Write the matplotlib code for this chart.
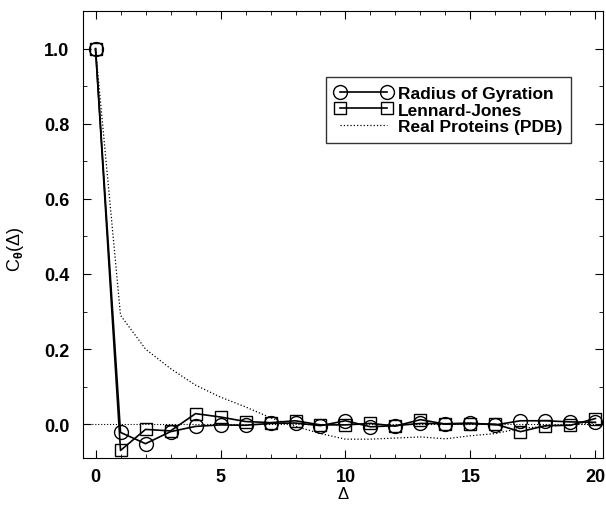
import matplotlib.pyplot as plt
import numpy as np

plt.rcParams['font.family'] = ['Liberation Sans', 'DejaVu Sans']
plt.rcParams['font.weight'] = 'bold'
plt.rcParams['mathtext.fontset'] = 'custom'
plt.rcParams['mathtext.rm'] = 'Liberation Sans:bold'
plt.rcParams['mathtext.it'] = 'Liberation Sans:bold'
plt.rcParams['mathtext.bf'] = 'Liberation Sans:bold'

# separation along the chain
delta = list(range(0, 21))

# radius of gyration model
rg = [1.0, -0.022, -0.052, -0.02, -0.006, -0.002, -0.003, 0.002, 0.003, -0.004,
      0.009, -0.007, -0.004, 0.002, 0.001, 0.003, -0.002, 0.009, 0.009, 0.006, 0.005]

# Lennard-Jones model
lj = [1.0, -0.07, -0.014, -0.018, 0.028, 0.019, 0.007, 0.004, 0.009, -0.002,
      -0.002, 0.002, -0.005, 0.012, 0.0, 0.001, 0.0, -0.02, -0.004, -0.003, 0.015]

# real proteins (PDB)
pdb = [1.0, 0.29, 0.2, 0.148, 0.104, 0.072, 0.046, 0.017, -0.006, -0.025,
       -0.04, -0.04, -0.037, -0.034, -0.039, -0.031, -0.025, -0.011, -0.006, -0.002, 0.003]

fig = plt.figure(figsize=(6.06, 5.06), dpi=100)
ax = fig.add_axes([0.137, 0.093, 0.858, 0.883])

ax.axhline(0, color='black', linestyle=':', linewidth=0.8)
ax.plot(delta, rg, color='black', linewidth=1.2, marker='o', markersize=10,
        mfc='none', mec='black', mew=1.0, label='Radius of Gyration')
ax.plot(delta, lj, color='black', linewidth=1.2, marker='s', markersize=9,
        mfc='none', mec='black', mew=1.0, label='Lennard-Jones')
ax.plot(delta, pdb, color='black', linewidth=0.9, linestyle=':', label='Real Proteins (PDB)')

ax.set_xlim(-0.5, 20.3)
ax.set_ylim(-0.09, 1.1)
ax.set_xticks(np.arange(0, 21, 5))
ax.set_xticks(np.arange(0, 21, 1), minor=True)
ax.set_yticks(np.arange(0, 1.01, 0.2))
ax.set_yticks(np.arange(0, 1.11, 0.1), minor=True)
ax.set_yticklabels(['0.0', '0.2', '0.4', '0.6', '0.8', '1.0'])
ax.tick_params(which='both', direction='in', top=True, right=True, labelsize=13)
ax.tick_params(which='major', length=6)
ax.tick_params(which='minor', length=3)
ax.tick_params(axis='y', pad=10)
ax.tick_params(axis='x', pad=7)

ax.set_xlabel('Δ', fontsize=12)
ax.xaxis.set_label_coords(0.5, -0.062)
ax.set_ylabel(r'C$_\theta$(Δ)', fontsize=13)
ax.yaxis.set_label_coords(-0.11, 0.47)

leg = ax.legend(loc='upper right', bbox_to_anchor=(0.938, 0.853), numpoints=2,
                prop={'size': 12.5, 'weight': 'bold'}, frameon=True, fancybox=False,
                handlelength=3.3, handletextpad=0.3, borderpad=0.5,
                labelspacing=0.1, borderaxespad=0)
leg.get_frame().set_edgecolor('black')
leg.get_frame().set_linewidth(1.0)

fig.savefig('out.png', dpi=100)
